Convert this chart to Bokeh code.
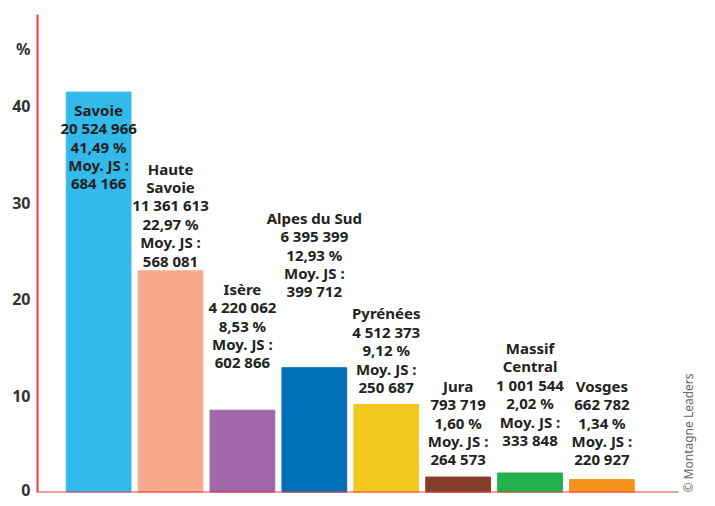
import math
from bokeh.plotting import figure
from bokeh.models import Span, FixedTicker, ColumnDataSource, Range1d, LinearAxis
from bokeh.core.properties import value
from bokeh.embed import file_html
from bokeh.resources import INLINE

# ---- data ----
regions = ["Savoie", "Haute\nSavoie", "Isère", "Alpes du Sud", "Pyrénées",
           "Jura", "Massif\nCentral", "Vosges"]
pct = [41.49, 22.97, 8.53, 12.93, 9.12, 1.60, 2.02, 1.34]
journees = [20524966, 11361613, 4220062, 6395399, 4512373, 793719, 1001544, 662782]
moy_js = [684166, 568081, 602866, 399712, 250687, 264573, 333848, 220927]
colors = ["#33b9ea", "#f7a98b", "#a066aa", "#0070b8", "#f2c81f",
          "#843f2a", "#22b14c", "#f7941d"]
y_ticks = [0, 10, 20, 30, 40]
unit_label = "%"
unit_pos = 46
credit = "© Montagne Leaders"
credit_pos = 0
# top of each label block (value units)
label_top = [40.7, 34.6, 22.15, 29.5, 19.6, 12.1, 16.0, 12.1]


def fmt_int(n):
    return f"{n:,}".replace(",", " ")


def fmt_pct(v):
    return f"{v:.2f}".replace(".", ",") + " %"


labels = [f"{r}\n{fmt_int(j)}\n{fmt_pct(v)}\nMoy. JS :\n{fmt_int(m)}"
          for r, j, v, m in zip(regions, journees, pct, moy_js)]
xs = list(range(len(regions)))

src = ColumnDataSource(dict(x=xs, pct=pct, color=colors, label=labels, ly=label_top))

p = figure(width=708, height=500,
           x_range=Range1d(-0.85, 8.065), y_range=Range1d(0, 49.53),
           output_backend="svg", toolbar_location=None,
           min_border_left=37, min_border_right=30,
           min_border_top=14, min_border_bottom=8)
p.xaxis.visible = False
p.xgrid.visible = False
p.ygrid.visible = False
p.outline_line_color = None

ax = p.yaxis[0]
ax.ticker = FixedTicker(ticks=y_ticks + [unit_pos])
ax.major_label_overrides = {unit_pos: unit_label}
ax.axis_line_color = "#ec3a40"
ax.axis_line_width = 2
ax.major_tick_in = 0
ax.major_tick_out = 0
ax.minor_tick_line_color = None
ax.major_label_standoff = 7
ax.major_label_text_font = "Noto Sans"
ax.major_label_text_font_style = "bold"
ax.major_label_text_font_size = "16px"
ax.major_label_text_color = "#333333"

# credit on a right-side axis
rax = LinearAxis(ticker=FixedTicker(ticks=[credit_pos]),
                 major_label_overrides={credit_pos: credit},
                 major_label_orientation=math.pi / 2,
                 axis_line_color=None, major_tick_line_color=None,
                 minor_tick_line_color=None, major_label_standoff=4,
                 major_label_text_font="Noto Sans",
                 major_label_text_font_size="12px",
                 major_label_text_color="#666666")
p.add_layout(rax, "right")

p.vbar(x="x", top="pct", width=0.9, color="color", source=src)

p.add_layout(Span(location=0, dimension="width", line_color="#ec3a40", line_width=2))

p.text(x="x", y="ly", text="label", source=src,
       text_align="center", text_baseline="top",
       text_font=value("Noto Sans"), text_font_style="bold",
       text_font_size="15px", text_line_height=0.92, text_color="#222222")

open("out.html", "w").write(file_html(p, INLINE))
